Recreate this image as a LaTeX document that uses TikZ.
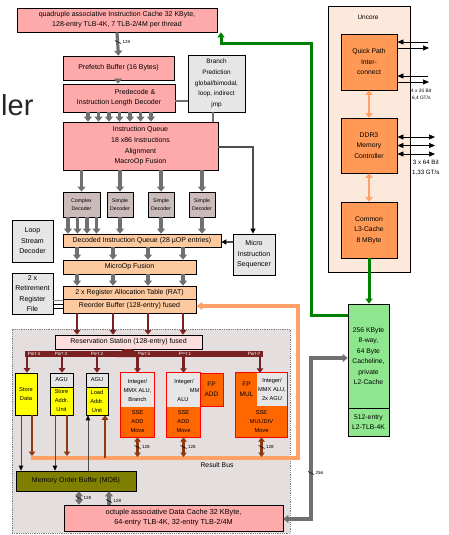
\documentclass[tikz,border=0pt]{standalone}
\usepackage{fontspec}
\setmainfont{Liberation Sans}
\usetikzlibrary{arrows.meta}
\newcommand\myfs[2]{\fontsize{#1}{#2}\selectfont}
\newcommand\bx[6]{\node[#1,minimum width={(#4)-(#2)},minimum height={(#5)-(#3)}] (#6) at ({((#2)+(#4))/2},{((#3)+(#5))/2})}
\newcommand\wlabel[4]{%
  \draw[black,line width=0.6pt] ({#1-3},{#2-1.5}) -- ({#1+3},{#2+1.5});
  \node[small,anchor=west] (#3) at ({#1+4.5},#2) {#4};}
\definecolor{cpink}{RGB}{255,170,170}
\definecolor{cpeach}{RGB}{253,202,160}
\definecolor{clgray}{RGB}{230,230,230}
\definecolor{cdec}{RGB}{204,187,187}
\definecolor{cbg}{RGB}{229,222,222}
\definecolor{crs}{RGB}{252,222,222}
\definecolor{cbus}{RGB}{122,34,34}
\definecolor{cbrown}{RGB}{139,58,18}
\definecolor{cyel}{RGB}{255,255,0}
\definecolor{corg}{RGB}{255,102,0}
\definecolor{cunc}{RGB}{253,233,220}
\definecolor{cuncbox}{RGB}{255,153,85}
\definecolor{clink}{RGB}{255,160,100}
\definecolor{cgreen}{RGB}{0,128,0}
\definecolor{cl2}{RGB}{142,230,142}
\definecolor{cmob}{RGB}{128,128,0}
\definecolor{cgray}{RGB}{112,112,112}
\begin{document}
\begin{tikzpicture}[x=1pt,y=-1pt,
  every node/.style={inner sep=0pt,align=center,font=\myfs{7}{10.5}},
  box/.style={draw=black,line width=0.7pt},
  pinkbox/.style={box,fill=cpink},
  peachbox/.style={box,fill=cpeach},
  graybox/.style={box,fill=clgray},
  decbox/.style={box,fill=cdec,font=\myfs{5.2}{8}},
  unitf/.style={font=\myfs{5.7}{9}},
  yelbox/.style={box,fill=cyel,unitf},
  agubox/.style={box,fill=clgray,unitf},
  grcell/.style={fill=clgray,unitf},
  orcell/.style={fill=corg,unitf},
  redframe/.style={draw=red,line width=0.8pt},
  uncbox/.style={box,fill=cuncbox,font=\myfs{6.8}{10.5}},
  l2box/.style={box,fill=cl2,font=\myfs{6.8}{10.5}},
  bgbox/.style={draw=gray,densely dotted,line width=0.8pt,fill=cbg},
  garrow/.style={draw=cgray,line width=3.2pt,-{Triangle[width=8pt,length=5pt]}},
  gdouble/.style={draw=cgray,line width=3.2pt,{Triangle[width=8pt,length=5pt]}-{Triangle[width=8pt,length=5pt]}},
  gline/.style={draw=cgray,line width=2pt},
  thinarrow/.style={draw=cgray!70!black,line width=1.2pt,-{Triangle[width=5pt,length=5pt,color=black]}},
  busarrow/.style={draw=cbus,line width=2.4pt,-{Triangle[width=6.5pt,length=4.5pt]}},
  brarrow/.style={draw=cbrown,line width=2.4pt,-{Triangle[width=6.5pt,length=4.5pt]}},
  brdouble/.style={draw=cbrown,line width=2.4pt,{Triangle[width=6.5pt,length=4.5pt]}-{Triangle[width=6.5pt,length=4.5pt]}},
  memline/.style={draw=black!70,line width=1pt,-{Triangle[width=4.5pt,length=5pt,color=black]}},
  obus/.style={draw=clink,line width=3.5pt},
  greenln/.style={draw=cgreen,line width=3pt,-{Triangle[width=7pt,length=5pt]}},
  uarrow/.style={draw=clink,line width=2.5pt,{Triangle[width=7pt,length=4.5pt]}-{Triangle[width=7pt,length=4.5pt]}},
  qarrow/.style={draw=black,line width=0.7pt,-{Triangle[width=5pt,length=6pt]}},
  qdouble/.style={draw=black,line width=0.7pt,{Triangle[width=5pt,length=6pt]}-{Triangle[width=5pt,length=6pt]}},
  small/.style={font=\myfs{4.5}{5}},
  portlbl/.style={font=\myfs{4.6}{5},text=white}]
\useasboundingbox (0,0) rectangle (449,535);

% big partial title text
\node[anchor=base west,font=\myfs{29}{29},text=black!85] (ler) at (1,115) {ler};

% backgrounds
\bx{bgbox}{12}{329}{290}{533}{cluster}{};
\bx{box,fill=cunc}{328}{6}{410}{272}{unc}{};
\node[font=\myfs{6.5}{8}] (unclbl) at (368,17) {Uncore};

% front end
\bx{pinkbox,font=\myfs{7}{9.7}}{17}{8}{217}{32}{ic}{quadruple associative Instruction Cache 32 KByte,\\128-entry TLB-4K, 7 TLB-2/4M per thread};
\bx{pinkbox}{63}{56}{174}{80}{pf}{Prefetch Buffer (16 Bytes)};
\bx{pinkbox,font=\myfs{7}{10}}{63}{84}{175}{112}{pd}{\hspace*{32pt}Predecode \&\\Instruction Length Decoder};
\bx{graybox,font=\myfs{6.4}{10.8}}{188}{55}{245}{112}{bp}{Branch\\Prediction\\global/bimodal,\\loop, indirect\\jmp};
\bx{pinkbox,font=\myfs{7}{10.7}}{63}{122}{218}{170}{iq}{Instruction Queue\\18 x86 Instructions\\Alignment\\MacroOp Fusion};
\bx{decbox}{63}{192}{100}{217}{cd}{Complex\\Decoder};
\bx{decbox}{107}{192}{133}{217}{sd1}{Simple\\Decoder};
\bx{decbox}{148}{192}{174}{217}{sd2}{Simple\\Decoder};
\bx{decbox}{189}{192}{215}{217}{sd3}{Simple\\Decoder};
\bx{peachbox}{63}{234}{221}{247}{diq}{Decoded Instruction Queue (28 µOP entries)};
\bx{graybox}{12}{220}{53}{262}{lsd}{Loop\\Stream\\Decoder};
\bx{graybox}{233}{234}{275}{275}{mis}{Micro\\Instruction\\Sequencer};
\bx{peachbox}{63}{260}{196}{274}{mof}{MicroOp Fusion};
\bx{peachbox}{63}{286}{196}{299}{rat}{2 x Register Allocation Table (RAT)};
\bx{peachbox}{63}{299}{196}{313}{rob}{Reorder Buffer (128-entry) fused};
\bx{graybox}{12}{273}{53}{314}{rrf}{2 x\\Retirement\\Register\\File};

% front-end arrows
\draw[garrow] (ic.south) -- (pf.north);
\wlabel{118}{42}{l128a}{128}
\draw[garrow] (pf.south -| 118,0) -- (pd.north -| 118,0);
\foreach \xx in {88,98.5,109,119.5,130,140.5,151}
  \draw[garrow] (pd.south -| \xx,0) -- (iq.north -| \xx,0);
\draw[gline] (pd.east |- 0,101) -- (bp.west |- 0,101);
\draw[gline] (bp.south -| 213,0) -- (iq.north -| 213,0);
\draw[garrow] (iq.south -| cd.north) -- (cd.north);
\draw[garrow] (iq.south -| sd1.north) -- (sd1.north);
\draw[garrow] (iq.south -| sd2.north) -- (sd2.north);
\draw[garrow] (iq.south -| sd3.north) -- (sd3.north);
\foreach \xx in {68,77.5,87,96.5}
  \draw[garrow] (cd.south -| \xx,0) -- (diq.north -| \xx,0);
\draw[garrow] (sd1.south) -- (diq.north -| sd1.south);
\draw[garrow] (sd2.south) -- (diq.north -| sd2.south);
\draw[garrow] (sd3.south) -- (diq.north -| sd3.south);
\foreach \xx in {77,113,148,183} {
  \draw[garrow] (diq.south -| \xx,0) -- (mof.north -| \xx,0);
  \draw[garrow] (mof.south -| \xx,0) -- (rat.north -| \xx,0);
}
\draw[thinarrow] (iq.east |- 0,147) -- (253,147) -- (mis.north -| 253,0);
\draw[thinarrow,line width=1.8pt] (mis.west |- 0,242) -- (diq.east |- 0,242);
\draw[gray,line width=0.8pt] (rob.west |- 0,300.5) -- (rrf.east |- 0,300.5);
\draw[black,line width=0.8pt] (rob.west |- 0,304.5) -- (rrf.east |- 0,304.5);
\draw[black,line width=0.8pt] (rob.west |- 0,308.5) -- (rrf.east |- 0,308.5);

% result bus (orange)
\coordinate (rb1) at (31,458);
\coordinate (rb2) at (298,458);
\coordinate (rb3) at (298,306);
\draw[obus] (rb1) -- (rb2) -- (rb3) -- ([xshift=5pt]rob.east |- rb3);
\fill[clink] (rob.east |- rb3) -- ++(6,-4) -- ++(0,8) -- cycle;
\node[font=\myfs{6.8}{8}] (rbl) at (217,465) {Result Bus};

% reservation station and ports
\bx{box,fill=crs}{55}{335}{202}{349}{rs}{Reservation Station (128-entry) fused};
\foreach \xx in {77,113,148,183}
  \draw[busarrow,line width=2pt] (rob.south -| \xx,0) -- (rs.north -| \xx,0);
\draw[cbus,line width=6pt] (24.5,354) -- (262.5,354);
\fill[cbus] (116,357) .. controls (121,357) and (120,349) .. (125,349) -- (131,349) .. controls (136,349) and (135,357) .. (140,357) -- cycle;
\coordinate (bp4) at (27,354);
\coordinate (bp3) at (62,354);
\coordinate (bp2) at (97,354);
\coordinate (bp5) at (137.5,354);
\coordinate (bp1) at (183.5,354);
\coordinate (bp0) at (260,354);
\node[portlbl] (pl4) at (34,354) {Port 4};
\node[portlbl] (pl3) at (61,354) {Port 3};
\node[portlbl] (pl2) at (97,354) {Port 2};
\node[portlbl] (pl5) at (144,354) {Port 5};
\node[portlbl] (pl1) at (185,354) {Port 1};
\node[portlbl] (pl0) at (254,354) {Port 0};

% execution units
\bx{yelbox}{15}{373}{37}{415}{sdu}{Store\\Data};
\bx{agubox}{50}{373}{73}{387}{saagu}{AGU};
\bx{yelbox}{50}{387}{73}{415}{sau}{Store\\Addr.\\Unit};
\bx{agubox}{86}{373}{108}{387}{laagu}{AGU};
\bx{yelbox}{86}{387}{108}{415}{lau}{Load\\Addr.\\Unit};
\bx{grcell}{121}{373}{154}{407}{p5a}{Integer/\\MMX ALU,\\Branch};
\bx{orcell}{121}{407}{154}{437}{p5b}{SSE\\ADD\\Move};
\draw[redframe] (p5a.north west) rectangle (p5b.south east);
\bx{grcell}{167}{373}{200}{407}{p1a}{};
\node[unitf] (p1int) at (184,382) {Integer/};
\node[unitf,anchor=east] (p1mmx) at (199.6,391) {MM};
\node[unitf] (p1alu) at (183,400) {ALU};
\bx{orcell}{167}{407}{200}{437}{p1b}{SSE\\ADD\\Move};
\draw[redframe] (p1a.north west) rectangle (p1b.south east);
\bx{orcell,redframe,font=\myfs{6.5}{10}}{200}{373}{223}{406}{fpadd}{FP\\ADD};
\bx{orcell,font=\myfs{6.5}{10}}{236}{373}{257}{406}{fpmul}{FP\\MUL};
\bx{grcell}{257}{373}{287}{406}{p0a}{Integer/\\MMX ALU,\\2x AGU};
\bx{orcell}{236}{406}{287}{437}{p0b}{SSE\\MUL/DIV\\Move};
\draw[redframe] (fpmul.north west) rectangle (p0b.south east);

\draw[busarrow] (bp4) -- (sdu.north -| bp4);
\draw[busarrow] (bp3) -- (saagu.north -| bp3);
\draw[busarrow] (bp2) -- (laagu.north -| bp2);
\draw[busarrow] (bp5) -- (p5a.north -| bp5);
\draw[busarrow] (bp1) -- (p1a.north -| bp1);
\draw[busarrow] (bp0) -- (p0a.north -| bp0);

% memory order buffer and data cache
\bx{box,fill=cmob}{16}{471}{136}{491}{mob}{Memory Order Buffer (MOB)};
\bx{pinkbox,font=\myfs{7.3}{10}}{64}{505}{283}{531}{dc}{octuple associative Data Cache 32 KByte,\\64-entry TLB-4K, 32-entry TLB-2/4M};

\draw[memline] (sdu.south -| 21,0) -- (mob.north -| 21,0);
\draw[brarrow] (sdu.south -| 32,0) -- (32,456);
\draw[memline] (sau.south -| 55,0) -- (mob.north -| 55,0);
\draw[brarrow] (sau.south -| 67,0) -- (67,456);
\draw[memline] (mob.north -| 88,0) -- (lau.south -| 88,0);
\draw[brarrow] (105,458) -- (lau.south -| 105,0);
\draw[brdouble] (p5b.south -| 137.5,0) -- (137.5,457);
\wlabel{137.5}{447}{l128b}{128}
\draw[brdouble] (p1b.south -| 183.5,0) -- (183.5,457);
\wlabel{183.5}{447}{l128c}{128}
\draw[brdouble] (p0b.south -| 261.5,0) -- (261.5,457);
\wlabel{261.5}{447}{l128d}{128}

\draw[gdouble] (mob.south -| 79,0) -- (dc.north -| 79,0);
\wlabel{79}{498}{l128e}{128}
\draw[garrow] (dc.north -| 109,0) -- (mob.south -| 109,0);
\wlabel{109}{501}{l128f}{128}

% uncore
\bx{uncbox}{341}{34}{397}{90}{qpi}{Quick Path\\Inter-\\connect};
\bx{uncbox}{341}{118}{397}{173}{ddr}{DDR3\\Memory\\Controller};
\bx{uncbox}{341}{202}{397}{258}{l3}{Common\\L3-Cache\\8 MByte};
\draw[uarrow] (qpi.south) -- (ddr.north);
\draw[uarrow] (ddr.south) -- (l3.north);
\coordinate (q1) at (428,42);
\coordinate (q2) at (429,48);
\coordinate (q3) at (428,76);
\coordinate (q4) at (429,82);
\draw[qarrow] (q1) -- (qpi.east |- q1);
\draw[qarrow] (qpi.east |- q2) -- (q2);
\draw[qarrow] (q3) -- (qpi.east |- q3);
\draw[qarrow] (qpi.east |- q4) -- (q4);
\node[font=\myfs{4.8}{7},anchor=north west] (qlbl) at (411,89) {4 x 20 Bit\\6,4 GT/s};
\coordinate (d1) at (435,137);
\coordinate (d2) at (435,145.5);
\coordinate (d3) at (435,154);
\draw[qdouble] (ddr.east |- d1) -- (d1);
\draw[qdouble] (ddr.east |- d2) -- (d2);
\draw[qdouble] (ddr.east |- d3) -- (d3);
\node[font=\myfs{6.2}{10},anchor=north west] (dlbl) at (412,160) {3 x 64 Bit\\1,33 GT/s};

% L2
\bx{l2box}{348}{304}{389}{408}{l2}{256 KByte\\8-way,\\64 Byte\\Cacheline,\\private\\L2-Cache};
\bx{l2box}{348}{408}{389}{436}{l2tlb}{512-entry\\L2-TLB-4K};
\draw[greenln] (l3.south) -- (l3.south |- l2.north);
\coordinate (g1) at (311,315);
\coordinate (g2) at (311,44);
\coordinate (g3) at (221,44);
\draw[greenln] (l2.west |- g1) -- (g1) -- (g2) -- (g3) -- (ic.south -| g3);
\coordinate (k1) at (311,358);
\coordinate (k2) at (311,519);
\draw[gdouble] (l2.west |- k1) -- (k1) -- (k2) -- (dc.east |- k2);
\wlabel{311}{473}{l256}{256}
\end{tikzpicture}
\end{document}
